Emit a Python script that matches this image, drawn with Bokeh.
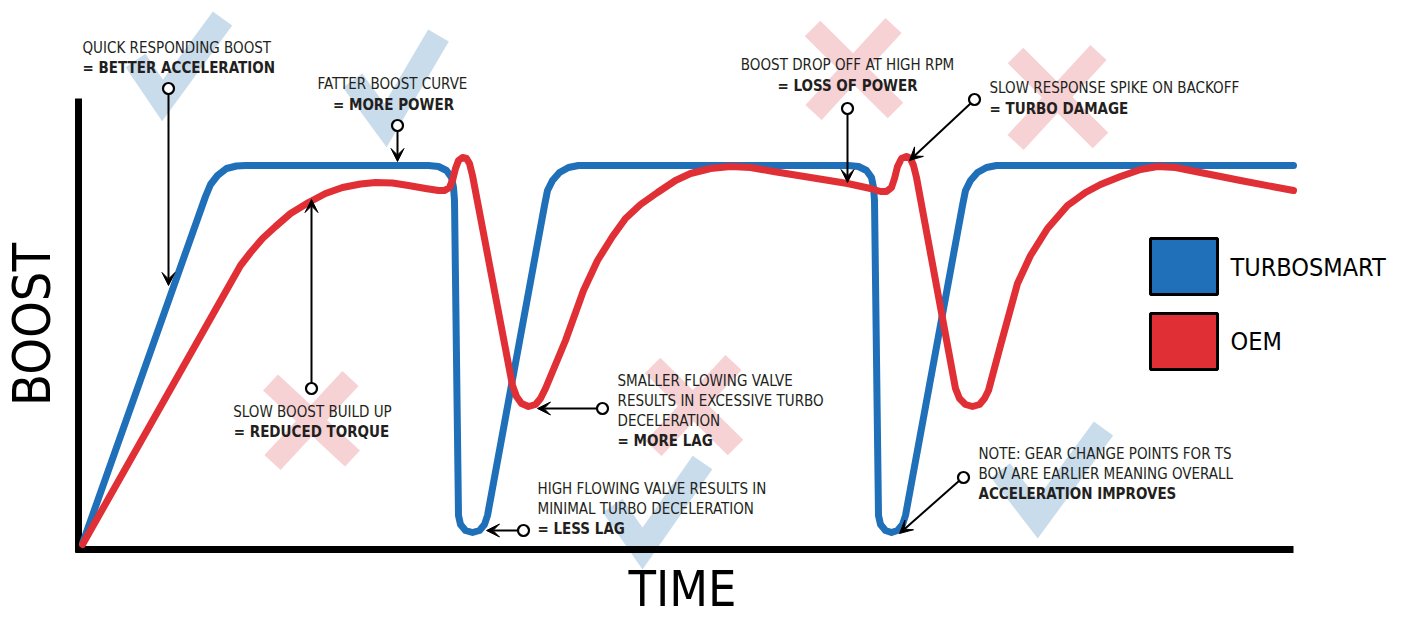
import math
from bokeh.plotting import figure
from bokeh.models import Range1d, ColumnDataSource, Arrow, VeeHead
from bokeh.core.properties import value
from bokeh.embed import file_html
from bokeh.resources import INLINE

FONT = "DejaVu Sans Condensed, Roboto, sans-serif"

# ---- curves: time (x) and boost (y) ----
blue_time = [2, 125, 130, 137, 146, 156, 165, 348, 358, 366, 371, 373, 374, 378, 380, 385, 392, 399, 404, 407,
             464, 467, 472, 479, 488, 498, 768, 778, 786, 791, 793, 794, 798, 800, 805, 811, 817, 822, 825,
             882, 885, 890, 897, 906, 916, 1213]
blue_boost = [2, 349, 361, 370, 377, 379.5, 380, 380, 379, 375, 368, 358, 345, 30, 21, 15, 13, 15, 21, 30,
              340, 355, 365, 373, 378, 380, 380, 379, 375, 368, 358, 345, 30, 21, 15, 13, 15, 21, 30,
              340, 355, 365, 373, 378, 380, 380]

red_time = [2, 160, 170, 182, 195, 210, 228, 245, 262, 280, 295, 312, 328, 345, 358, 364, 369, 372, 375, 378,
            382, 386, 389, 392, 432, 436, 441, 448, 455, 460, 465, 485, 503, 517, 532, 545, 560, 577, 595,
            610, 630, 650, 670, 693, 730, 767, 790, 800, 806, 811, 814, 817, 821, 826, 830, 833, 836,
            875, 879, 885, 892, 899, 904, 908, 920, 937, 950, 967, 987, 1005, 1020, 1040, 1060, 1077,
            1095, 1120, 1160, 1213]
red_boost = [1, 280, 293, 307, 319, 332, 343, 352, 358, 361.5, 363, 362.5, 360, 357, 355, 355, 358, 365, 377, 385,
             388, 387, 382, 370, 160, 149, 142, 139, 141, 147, 157, 205, 255, 285, 309, 327, 341, 353, 365,
             372, 377, 379, 378, 374, 368, 362, 357, 354, 354, 358, 367, 379, 387, 389, 387, 380, 368,
             157, 147, 141, 139, 141, 147, 155, 200, 262, 290, 317, 340, 353, 361, 369, 376, 379,
             378, 373, 365, 355]

# ---- axes ----
axis_x0 = [-2, -5]
axis_y0 = [447, -4]
axis_x1 = [-2, 1213]
axis_y1 = [-7, -4]

# ---- background marks ----
check_xs = [[55, 82, 142], [272, 305, 358], [532, 562, 622], [920, 957, 1023]]
check_ys = [[485, 445, 527], [465, 420, 510], [40, -3, 83], [75, 27, 117]]
cross_x0 = [190, 270, 732, 813, 935, 1018, 572, 653]
cross_y0 = [163, 167, 517, 520, 490, 493, 180, 183]
cross_x1 = [272, 192, 815, 733, 1020, 935, 655, 573]
cross_y1 = [87, 83, 435, 433, 405, 403, 98, 97]

# ---- annotation pointers ----
dot_x = [88, 317, 231, 767, 894, 522, 443, 883]
dot_y = [457, 420, 157, 437, 446, 137, 15, 68]
arr_x0 = [88, 317, 231, 767, 890, 517, 438, 879]
arr_y0 = [452, 415, 162, 432, 442, 137, 15, 65]
arr_x1 = [88, 317, 231, 767, 829, 457, 406, 819]
arr_y1 = [260, 384, 346, 363, 385, 137, 15, 12]

# ---- annotation texts ----
left_text = ["QUICK RESPONDING BOOST", "SLOW RESPONSE SPIKE ON BACKOFF", "SMALLER FLOWING VALVE",
             "RESULTS IN EXCESSIVE TURBO", "DECELERATION", "HIGH FLOWING VALVE RESULTS IN",
             "MINIMAL TURBO DECELERATION", "NOTE: GEAR CHANGE POINTS FOR TS", "BOV ARE EARLIER MEANING OVERALL"]
left_x = [2, 909, 537, 537, 537, 457, 457, 898, 898]
left_y = [498, 458, 165, 145, 125, 57, 37, 92, 72]
center_text = ["FATTER BOOST CURVE", "SLOW BOOST BUILD UP", "BOOST DROP OFF AT HIGH RPM"]
center_x = [312, 232, 767]
center_y = [462, 134, 481]
bold_left_text = ["= BETTER ACCELERATION", "= TURBO DAMAGE", "= MORE LAG", "= LESS LAG", "ACCELERATION IMPROVES"]
bold_left_x = [2, 909, 537, 457, 898]
bold_left_y = [478, 437, 105, 17, 52]
bold_center_text = ["= MORE POWER", "= REDUCED TORQUE", "= LOSS OF POWER"]
bold_center_x = [313, 231, 767]
bold_center_y = [441, 114, 460]

# ---- legend ----
legend_labels = ["TURBOSMART", "OEM"]
legend_colors = ["#1f70b8", "#e03036"]
legend_left = [1070, 1070]
legend_right = [1137, 1137]
legend_top = [307, 232]
legend_bottom = [251, 176]
legend_text_x = [1150, 1150]
legend_text_y = [278, 204]

p = figure(width=1410, height=619, x_range=Range1d(-80, 1330), y_range=Range1d(-74, 545),
           output_backend="svg", toolbar_location=None, min_border=0,
           x_axis_location=None, y_axis_location=None)
p.grid.visible = False
p.outline_line_color = None
p.background_fill_color = "white"

# background check marks and crosses
p.multi_line(xs=check_xs, ys=check_ys, line_color="#c9dcec", line_width=24,
             line_join="miter", line_cap="butt")
p.segment(x0=cross_x0, y0=cross_y0, x1=cross_x1, y1=cross_y1, line_color="#f7d2d5",
          line_width=22, line_cap="butt")

# axes
p.segment(x0=axis_x0, y0=axis_y0, x1=axis_x1, y1=axis_y1, line_color="black", line_width=7, line_cap="butt")

# curves
p.line(blue_time, blue_boost, line_color="#1f70b8", line_width=7, line_join="round", line_cap="round")
p.line(red_time, red_boost, line_color="#e03036", line_width=7, line_join="round", line_cap="round")

# pointers
asrc = ColumnDataSource(dict(x0=arr_x0, y0=arr_y0, x1=arr_x1, y1=arr_y1))
p.add_layout(Arrow(end=VeeHead(size=13, line_color="black", fill_color="black", line_width=1),
                   x_start="x0", y_start="y0", x_end="x1", y_end="y1", source=asrc,
                   line_color="black", line_width=2))
p.scatter(dot_x, dot_y, size=11, marker="circle", fill_color="white", line_color="black", line_width=2.2)

# texts
txt = dict(text_font=value(FONT), text_font_size="15px", text_baseline="alphabetic", text_color="#231f20")
p.text(left_x, left_y, text=left_text, text_align="left", **txt)
p.text(center_x, center_y, text=center_text, text_align="center", **txt)
p.text(bold_left_x, bold_left_y, text=bold_left_text, text_align="left", text_font_style="bold", **txt)
p.text(bold_center_x, bold_center_y, text=bold_center_text, text_align="center", text_font_style="bold", **txt)

# legend
p.quad(left=legend_left, right=legend_right, top=legend_top, bottom=legend_bottom,
       fill_color=legend_colors, line_color="black", line_width=3)
p.text(legend_text_x, legend_text_y, text=legend_labels, text_font=value(FONT), text_font_size="25px",
       text_baseline="alphabetic", text_align="left", text_color="black")

# axis titles
p.text([-49], [221], text=["BOOST"], angle=math.pi / 2, text_font=value(FONT), text_font_size="52px",
       text_align="center", text_baseline="alphabetic", text_color="black")
p.text([602], [-43], text=["TIME"], text_font=value(FONT), text_font_size="50px",
       text_align="center", text_baseline="alphabetic", text_color="black")

open("out.html", "w").write(file_html(p, INLINE))
